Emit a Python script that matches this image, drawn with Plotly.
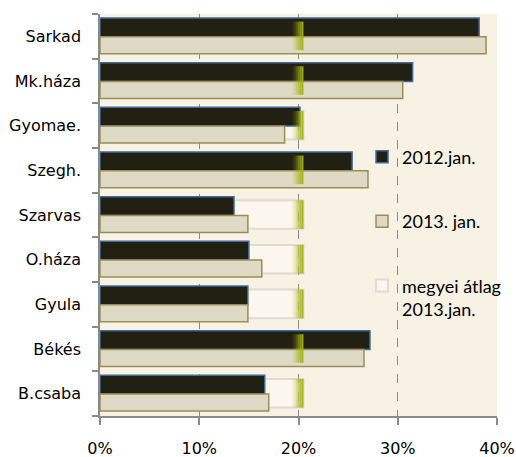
import plotly.graph_objects as go

# ---- data (bottom to top, as Plotly draws categories) ----
categories = ["B.csaba", "Békés", "Gyula", "O.háza", "Szarvas",
              "Szegh.", "Gyomae.", "Mk.háza", "Sarkad"]
jan2012 = [0.166, 0.272, 0.149, 0.150, 0.135, 0.254, 0.2015, 0.315, 0.382]
jan2013 = [0.170, 0.266, 0.149, 0.163, 0.149, 0.270, 0.186, 0.305, 0.389]
county_avg_2013 = [0.205, 0.205, 0.205, 0.205, 0.205, 0.205, 0.205, 0.205, 0.205]
series_names = ["2012.jan.", "2013. jan.", "megyei átlag<br>2013.jan."]
x_ticks = [0, 0.1, 0.2, 0.3, 0.4]
x_tick_labels = ["0%", "10%", "20%", "30%", "40%"]

fig = go.Figure()

# county average: faint light bar behind the others
fig.add_trace(go.Bar(
    y=categories, x=county_avg_2013, orientation="h",
    offset=-0.31, width=0.64,
    marker=dict(color="rgba(255,255,255,0.4)",
                line=dict(color="rgba(185,185,170,0.4)", width=2)),
    name=series_names[2], legendgroup="c", legendrank=3,
))

fig.add_trace(go.Bar(
    y=categories, x=jan2012, orientation="h",
    offset=-0.01, width=0.42,
    marker=dict(color="#221f13", line=dict(color="#3f6b9a", width=1.5)),
    name=series_names[0], legendgroup="a", legendrank=1,
))

fig.add_trace(go.Bar(
    y=categories, x=jan2013, orientation="h",
    offset=-0.39, width=0.38,
    marker=dict(color="#dedac5", line=dict(color="#998e57", width=1.5)),
    name=series_names[1], legendgroup="b", legendrank=2,
))

# green gradient cap at the end of the county-average bar
fade = 0.011
alphas = [0.12, 0.25, 0.45, 0.65, 0.85, 0.95]
step = fade / len(alphas)
for i, a in enumerate(alphas):
    fig.add_trace(go.Bar(
        y=categories, x=[step] * len(categories),
        base=[v - fade + i * step for v in county_avg_2013],
        orientation="h", offset=-0.31, width=0.64,
        marker=dict(color=f"rgba(162,178,24,{a})", line=dict(width=0)),
        showlegend=False, hoverinfo="skip",
    ))

fig.update_layout(
    width=516, height=457,
    margin=dict(l=100, r=19, t=14, b=41, autoexpand=False),
    paper_bgcolor="white", plot_bgcolor="#f8f2e4",
    barmode="overlay",
    font=dict(family="DejaVu Sans", size=16, color="black"),
    xaxis=dict(
        range=[0, 0.4], tickvals=x_ticks, ticktext=x_tick_labels,
        showgrid=True, gridcolor="#8a8a8a", griddash="dash", gridwidth=1.2,
        showline=True, linecolor="#8a8a8a", linewidth=1.5,
        ticks="outside", ticklen=7, tickcolor="#8a8a8a", tickwidth=1.5,
        zeroline=False, ticklabelstandoff=10, automargin=False,
        tickfont=dict(family="DejaVu Sans", size=16),
    ),
    yaxis=dict(
        type="category", categoryorder="array", categoryarray=categories,
        range=[-0.5, 8.5],
        showline=True, linecolor="#8a8a8a", linewidth=1.5,
        ticks="outside", tickson="boundaries", ticklen=6,
        tickcolor="#8a8a8a", tickwidth=1.5,
        showgrid=False, ticklabelstandoff=14, automargin=False,
        tickfont=dict(family="DejaVu Sans", size=16),
    ),
    legend=dict(
        x=0.66, y=0.69, xanchor="left", yanchor="top",
        bgcolor="rgba(0,0,0,0)", font=dict(family="Lato", size=18),
        traceorder="grouped", tracegroupgap=38, valign="top", itemwidth=30,
    ),
)

fig.write_html(
    "out.html",
    config={"displayModeBar": False},
    post_script="document.body.style.margin='0';document.body.style.overflow='hidden';",
)
